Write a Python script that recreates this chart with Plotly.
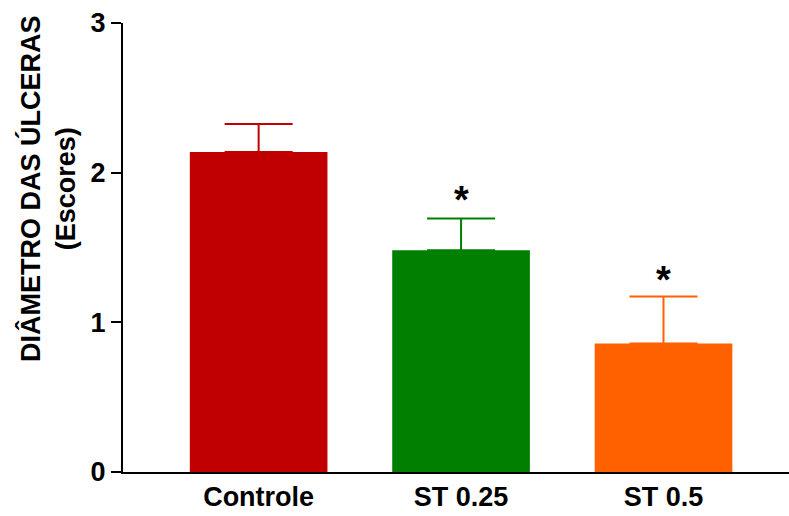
import plotly.graph_objects as go

categories = ["Controle", "ST 0.25", "ST 0.5"]
means = [2.138, 1.481, 0.858]
errors_up = [0.187, 0.212, 0.314]
colors = ["#C00000", "#007F00", "#FF6000"]
star_labels = ["", "*", "*"]
star_y = [None, 1.82, 1.28]
y_ticks = [0, 1, 2, 3]

FONT = "Liberation Sans, Arial, Helvetica, sans-serif"

fig = go.Figure()
for cat, m, e, c in zip(categories, means, errors_up, colors):
    fig.add_trace(go.Bar(
        x=[cat], y=[m],
        marker=dict(color=c, line=dict(width=0)),
        width=0.68,
        error_y=dict(type="data", array=[e], symmetric=False, arrayminus=[0],
                     color=c, thickness=2, width=34),
        showlegend=False,
    ))

for cat, s, sy in zip(categories, star_labels, star_y):
    if s:
        fig.add_annotation(x=cat, y=sy, text="<b>%s</b>" % s, showarrow=False,
                           font=dict(family=FONT, size=38, color="black"))

fig.add_annotation(
    xref="paper", yref="paper", x=-0.113, y=0.632,
    xanchor="center", yanchor="middle",
    text="<b>DIÂMETRO DAS ÚLCERAS<br>(Escores)</b>", textangle=-90,
    showarrow=False, font=dict(family=FONT, size=27, color="black"),
)

fig.update_layout(
    width=789, height=516,
    margin=dict(l=123, r=0, t=23, b=44, autoexpand=False),
    plot_bgcolor="white", paper_bgcolor="white",
    bargap=0.32,
    font=dict(family=FONT, color="black"),
)
fig.update_xaxes(
    range=[-0.67, 2.62], showline=True, linecolor="black", linewidth=2,
    ticks="", showgrid=False, zeroline=False, automargin=False,
    tickfont=dict(family=FONT, size=27, color="black", weight="bold"),
)
fig.update_yaxes(
    range=[0, 3], tickvals=y_ticks, showline=True, linecolor="black", linewidth=2,
    ticks="outside", ticklen=10, tickwidth=2, tickcolor="black",
    showgrid=False, zeroline=False, automargin=False,
    tickfont=dict(family=FONT, size=27, color="black", weight="bold"),
)

fig.write_html("out.html", config={"displayModeBar": False},
               post_script="document.body.style.margin='0';")
